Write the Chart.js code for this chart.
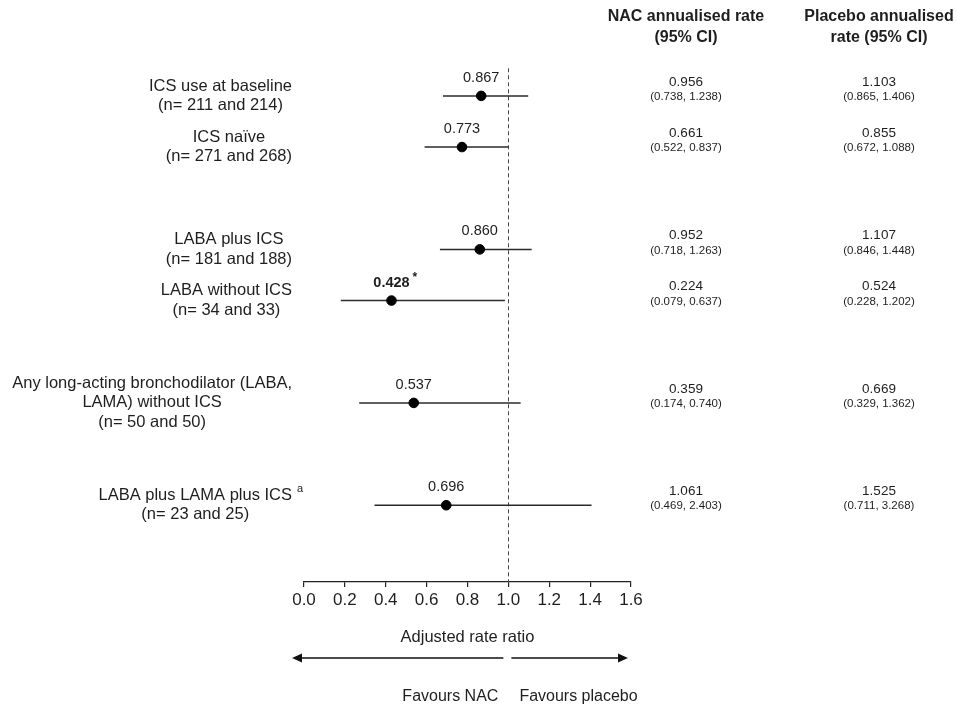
<!DOCTYPE html>
<html><head><meta charset="utf-8">
<script src="https://cdn.jsdelivr.net/npm/chart.js@4.4.0/dist/chart.umd.min.js"></script>
<style>html,body{margin:0;padding:0;background:#fff;} canvas{display:block;}</style>
</head><body>
<canvas id="c" width="957" height="707"></canvas>
<script>
// ---------- data ----------
const rowCategories = ['ICS use at baseline','ICS naïve','','LABA plus ICS','LABA without ICS','','Any long-acting bronchodilator (LABA, LAMA) without ICS','','LABA plus LAMA plus ICS',''];
const subgroups = ['ICS use at baseline','ICS naïve','LABA plus ICS','LABA without ICS','Any long-acting bronchodilator (LABA, LAMA) without ICS','LABA plus LAMA plus ICS'];
const labelLines = [['ICS use at baseline'],['ICS naïve'],['LABA plus ICS'],['LABA without ICS'],['Any long-acting bronchodilator (LABA,','LAMA) without ICS'],['LABA plus LAMA plus ICS']];
const sampleSizes = ['(n= 211 and 214)','(n= 271 and 268)','(n= 181 and 188)','(n= 34 and 33)','(n= 50 and 50)','(n= 23 and 25)'];
const footnotes = ['','','','','','a'];
const rateRatio = [0.867,0.773,0.860,0.428,0.537,0.696];
const rateRatioLabels = ['0.867','0.773','0.860','0.428','0.537','0.696'];
const significant = [false,false,false,true,false,false];
const ciLower = [0.68,0.59,0.665,0.18,0.27,0.345];
const ciUpper = [1.097,1.0,1.114,0.983,1.06,1.407];
const nacRate = ['0.956','0.661','0.952','0.224','0.359','1.061'];
const nacCI = ['(0.738, 1.238)','(0.522, 0.837)','(0.718, 1.263)','(0.079, 0.637)','(0.174, 0.740)','(0.469, 2.403)'];
const placeboRate = ['1.103','0.855','1.107','0.524','0.669','1.525'];
const placeboCI = ['(0.865, 1.406)','(0.672, 1.088)','(0.846, 1.448)','(0.228, 1.202)','(0.329, 1.362)','(0.711, 3.268)'];
const xTicks = [0,0.2,0.4,0.6,0.8,1.0,1.2,1.4,1.6];
const nullEffect = 1;
const columnHeaders = [['NAC annualised rate','(95% CI)'],['Placebo annualised','rate (95% CI)']];
const axisTitle = 'Adjusted rate ratio';
const favourLeft = 'Favours NAC';
const favourRight = 'Favours placebo';

// ---------- styling ----------
const FONT = '"Liberation Sans", Arial, Helvetica, sans-serif';
const TEXT = '#1e1e1e';
function font(size, bold){ return (bold ? 'bold ' : '') + size + 'px ' + FONT; }

const forestPlugin = {
  id: 'forest',
  beforeDatasetsDraw(chart){
    const {ctx, chartArea} = chart;
    const x = chart.scales.x;
    const px = Math.round(x.getPixelForValue(nullEffect)) + 0.5;
    ctx.save();
    ctx.setLineDash([4,3]);
    ctx.strokeStyle = '#444';
    ctx.lineWidth = 1;
    ctx.beginPath();
    ctx.moveTo(px, chartArea.top - 2);
    ctx.lineTo(px, chartArea.bottom);
    ctx.stroke();
    ctx.restore();
  },
  afterDraw(chart){
    const {ctx} = chart;
    const x = chart.scales.x, y = chart.scales.y;
    const colX = [686, 879];
    ctx.save();
    ctx.fillStyle = TEXT;
    ctx.textBaseline = 'middle';
    subgroups.forEach((name, i) => {
      const py = y.getPixelForValue(rowCategories.indexOf(name));
      const px = x.getPixelForValue(rateRatio[i]);
      // estimate label
      ctx.font = font(14.5, significant[i]);
      ctx.textAlign = 'center';
      ctx.fillText(rateRatioLabels[i], px, py - 18);
      if (significant[i]) {
        const w = ctx.measureText(rateRatioLabels[i]).width;
        ctx.font = font(12, true);
        ctx.textAlign = 'left';
        ctx.fillText('*', px + w/2 + 3, py - 23);
      }
      // left labels
      const lines = labelLines[i].concat([sampleSizes[i]]);
      ctx.font = font(16.5, false);
      const widths = lines.map(l => ctx.measureText(l).width);
      const maxW = Math.max(...widths);
      const cx = x.left - 12 - maxW/2;
      const lh = 19.3;
      const y0 = py - (lines.length - 1) * lh / 2;
      ctx.textAlign = 'center';
      lines.forEach((l, k) => ctx.fillText(l, cx, y0 + k*lh));
      if (footnotes[i]) {
        ctx.font = font(11, false);
        ctx.textAlign = 'left';
        ctx.fillText(footnotes[i], cx + widths[0]/2 + 5, y0 - 7);
      }
      // right columns
      const vals = [[nacRate[i], nacCI[i]], [placeboRate[i], placeboCI[i]]];
      ctx.textAlign = 'center';
      vals.forEach((v, c) => {
        ctx.font = font(13.5, false);
        ctx.fillText(v[0], colX[c], py - 14);
        ctx.font = font(11.5, false);
        ctx.fillText(v[1], colX[c], py + 1);
      });
    });
    // headers
    ctx.font = font(16, true);
    ctx.textAlign = 'center';
    columnHeaders.forEach((h, c) => {
      ctx.fillText(h[0], colX[c], 17);
      ctx.fillText(h[1], colX[c], 38);
    });
    // axis title
    const x0 = x.getPixelForValue(xTicks[0]);
    const x1 = x.getPixelForValue(xTicks[xTicks.length-1]);
    const xn = x.getPixelForValue(nullEffect);
    ctx.font = font(16.5, false);
    ctx.fillText(axisTitle, (x0 + x1)/2, 637);
    // arrows
    const ay = 658;
    ctx.strokeStyle = '#111';
    ctx.fillStyle = '#111';
    ctx.lineWidth = 1.5;
    ctx.beginPath();
    ctx.moveTo(xn - 5, ay); ctx.lineTo(x0 - 4, ay);
    ctx.moveTo(xn + 3, ay); ctx.lineTo(x1 - 8, ay);
    ctx.stroke();
    ctx.beginPath();
    ctx.moveTo(x0 - 12, ay); ctx.lineTo(x0 - 2, ay - 4.5); ctx.lineTo(x0 - 2, ay + 4.5); ctx.closePath(); ctx.fill();
    ctx.beginPath();
    ctx.moveTo(x1 - 3, ay); ctx.lineTo(x1 - 13, ay - 4.5); ctx.lineTo(x1 - 13, ay + 4.5); ctx.closePath(); ctx.fill();
    // favours
    ctx.fillStyle = TEXT;
    ctx.font = font(16, false);
    ctx.textAlign = 'right';
    ctx.fillText(favourLeft, xn - 10, 697);
    ctx.textAlign = 'left';
    ctx.fillText(favourRight, xn + 11, 697);
    ctx.restore();
  }
};

const pointData = subgroups.map((name, i) => ({x: rateRatio[i], y: name}));
const ciDatasets = subgroups.map((name, i) => ({
  type: 'line',
  data: [{x: ciLower[i], y: name}, {x: ciUpper[i], y: name}],
  borderColor: '#2a2a2a',
  borderWidth: 1.5,
  pointRadius: 0,
  fill: false
}));

new Chart(document.getElementById('c'), {
  type: 'scatter',
  data: {
    datasets: [{
      data: pointData,
      backgroundColor: '#000',
      borderColor: '#000',
      pointRadius: 4.8,
      pointHoverRadius: 4.8
    }].concat(ciDatasets)
  },
  options: {
    responsive: false,
    animation: false,
    events: [],
    layout: { padding: { left: 304, right: 326, top: 70.3, bottom: 0 } },
    plugins: { legend: { display: false }, tooltip: { enabled: false } },
    scales: {
      x: {
        type: 'linear',
        min: xTicks[0],
        max: xTicks[xTicks.length-1],
        afterBuildTicks: s => { s.ticks = xTicks.map(v => ({value: v})); },
        afterFit: s => { s.height = 125; },
        ticks: {
          callback: v => Number(v).toFixed(1),
          font: { family: FONT, size: 17 },
          color: TEXT,
          padding: 3,
          maxRotation: 0,
          autoSkip: false
        },
        grid: { display: true, drawOnChartArea: false, drawTicks: true, tickLength: 5, color: '#222', lineWidth: 1.2 },
        border: { display: true, color: '#222', width: 1.2 }
      },
      y: {
        type: 'category',
        labels: rowCategories,
        offset: true,
        display: false
      }
    }
  },
  plugins: [forestPlugin]
});
</script>
</body></html>
